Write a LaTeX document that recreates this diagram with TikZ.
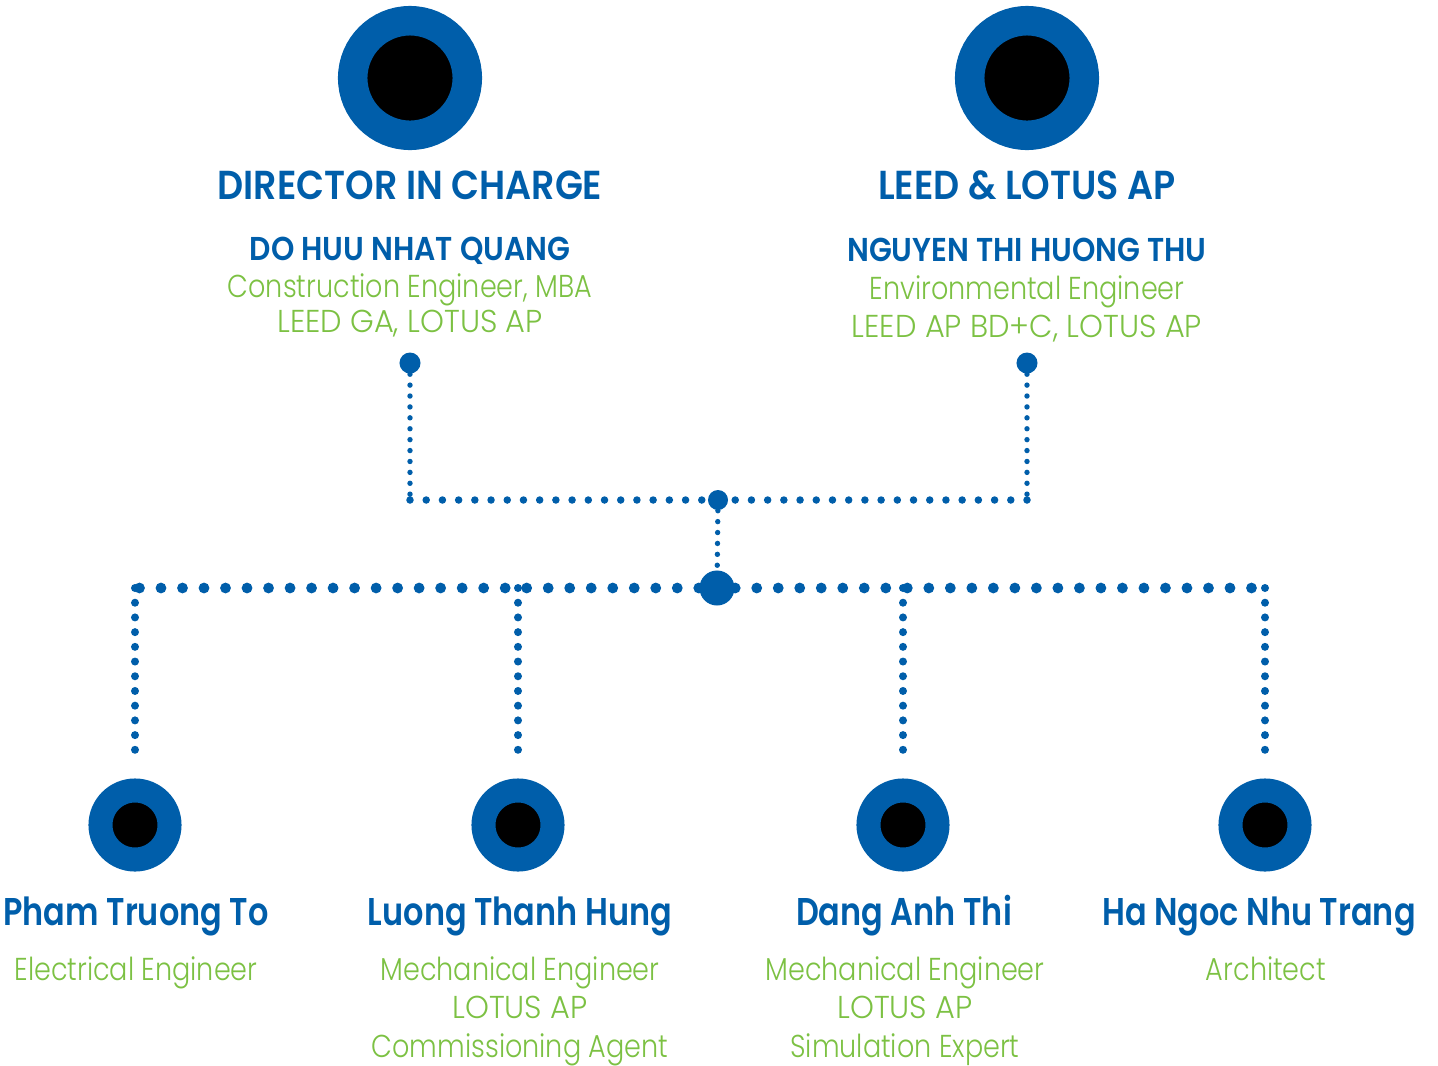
\documentclass[tikz,border=0pt]{standalone}
\usepackage{fontspec}
\usepackage{tikz}
\usetikzlibrary{positioning}
\newfontfamily\bluefont{Poppins}[UprightFont=* SemiBold, FakeStretch=0.825]
\newfontfamily\bluecaps{Poppins}[UprightFont=* SemiBold, FakeStretch=0.9]
\newfontfamily\greenfont{Poppins}[UprightFont=* Light, FakeStretch=0.855]
\newfontfamily\greencaps{Poppins}[UprightFont=* Light, FakeStretch=0.96]
\definecolor{teamblue}{RGB}{0,94,170}
\definecolor{teamgreen}{RGB}{124,193,67}
\tikzstyle{bigeye}=[circle,draw=teamblue,fill=black,line width=0.295cm,minimum size=1.145cm,inner sep=0pt]
\tikzstyle{smalleye}=[circle,draw=teamblue,fill=black,line width=0.24cm,minimum size=0.69cm,inner sep=0pt]
\tikzstyle{knot}=[circle,fill=teamblue,inner sep=0pt]
\tikzset{dotsa/.style={teamblue,line cap=round,line width=0.054cm,dash pattern=on 0pt off 0.109cm}}
\tikzset{dotsb/.style={teamblue,line cap=round,line width=0.075cm,dash pattern=on 0pt off 0.162cm}}
\tikzset{dotsc/.style={teamblue,line cap=round,line width=0.108cm,dash pattern=on 0pt off 0.215cm}}
\tikzset{dotsd/.style={teamblue,line cap=round,line width=0.08cm,dash pattern=on 0pt off 0.147cm}}
\tikzset{headtxt/.style={text=teamblue,anchor=base,font=\bluecaps\fontsize{11.5}{13}\selectfont}}
\tikzset{headname/.style={text=teamblue,anchor=base,font=\bluecaps\fontsize{9.4}{11}\selectfont}}
\tikzset{teamname/.style={text=teamblue,anchor=base,font=\bluefont\fontsize{11}{13}\selectfont}}
\tikzset{role/.style={text=teamgreen,anchor=base,font=\greenfont\fontsize{9}{10}\selectfont}}
\tikzset{rolecaps/.style={text=teamgreen,anchor=base,font=\greencaps\fontsize{9}{10}\selectfont}}

\begin{document}
\begin{tikzpicture}[x=0.01cm,y=-0.01cm]
  \useasboundingbox (0,0) rectangle (1438,1066);
  % heads
  \node[bigeye] (dir) at (410,78) {};
  \node[bigeye] (leed) at (1027,78) {};
  \node[headtxt] (dirt) at (410,199) {DIRECTOR IN CHARGE};
  \node[headtxt] (leedt) at (1027,199) {LEED \& LOTUS AP};
  \node[headname] (dirn) at (410,260) {DO HUU NHAT QUANG};
  \node[headname] (leedn) at (1027,261) {NGUYEN THI HUONG THU};
  \node[role] (dirr1) at (410,297) {Construction Engineer, MBA};
  \node[rolecaps] (dirr2) at (410,332) {LEED GA, LOTUS AP};
  \node[role] (leedr1) at (1027,299) {Environmental Engineer};
  \node[rolecaps] (leedr2) at (1027,337) {LEED AP BD+C, LOTUS AP};
  % links
  \node[knot,minimum size=0.21cm] (da) at (410,363) {};
  \node[knot,minimum size=0.21cm] (db) at (1027,363) {};
  \node[knot,minimum size=0.2cm] (join) at (718,500) {};
  \node[knot,minimum size=0.35cm] (hub) at (717,588) {};
  \coordinate (ca) at (410,500);
  \coordinate (cb) at (1027,500);
  \coordinate (c1) at (135,588);
  \coordinate (c2) at (518,588);
  \coordinate (c3) at (903,588);
  \coordinate (c4) at (1265,588);
  \draw[dotsa] (da) -- (ca);
  \draw[dotsa] (db) -- (cb);
  \draw[dotsb] (ca) -- (join);
  \draw[dotsb] (cb) -- (join);
  \draw[dotsa] (join) -- (hub);
  \draw[dotsc] (hub) -- (c1);
  \draw[dotsc] (hub) -- (c4);
  % team
  \node[smalleye] (p1) at (135,825) {};
  \node[smalleye] (p2) at (518,825) {};
  \node[smalleye] (p3) at (903,825) {};
  \node[smalleye] (p4) at (1265,825) {};
  \draw[dotsd,shorten >=0.2cm] (c1) -- (p1);
  \draw[dotsd,shorten >=0.2cm] (c2) -- (p2);
  \draw[dotsd,shorten >=0.2cm] (c3) -- (p3);
  \draw[dotsd,shorten >=0.2cm] (c4) -- (p4);
  \node[teamname] (p1n) at (136,925) {Pham Truong To};
  \node[teamname] (p2n) at (520,925) {Luong Thanh Hung};
  \node[teamname] (p3n) at (904,925) {Dang Anh Thi};
  \node[teamname] (p4n) at (1259,925) {Ha Ngoc Nhu Trang};
  \node[role] (p1r) at (136,980) {Electrical Engineer};
  \node[role] (p2r1) at (520,980) {Mechanical Engineer};
  \node[rolecaps] (p2r2) at (520,1018) {LOTUS AP};
  \node[role] (p2r3) at (520,1057) {Commissioning Agent};
  \node[role] (p3r1) at (905,980) {Mechanical Engineer};
  \node[rolecaps] (p3r2) at (905,1018) {LOTUS AP};
  \node[role] (p3r3) at (905,1057) {Simulation Expert};
  \node[role] (p4r) at (1266,980) {Architect};
\end{tikzpicture}
\end{document}
